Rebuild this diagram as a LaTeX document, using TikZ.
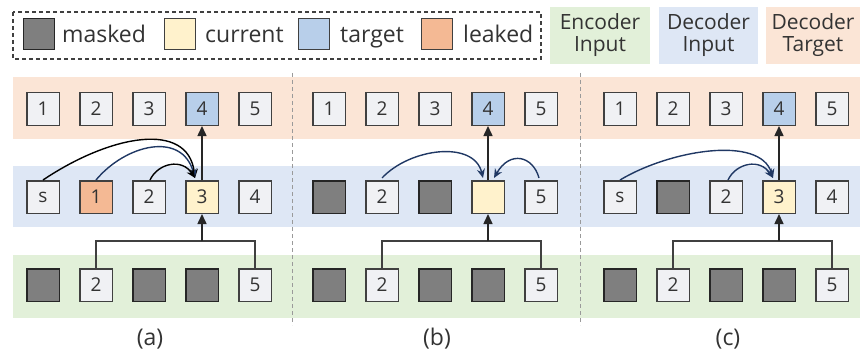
\documentclass[tikz,border=0pt]{standalone}
\usepackage{fontspec}
\setmainfont{Open Sans}
\usetikzlibrary{arrows.meta}

\definecolor{txt}{HTML}{333333}
\definecolor{boxline}{HTML}{404040}
\definecolor{tokfill}{HTML}{F0F1F4}
\definecolor{maskfill}{HTML}{7F7F7F}
\definecolor{maskline}{HTML}{262626}
\definecolor{curfill}{HTML}{FFF2CC}
\definecolor{tgtfill}{HTML}{B8CFEA}
\definecolor{leakfill}{HTML}{F4B994}
\definecolor{bandtgt}{HTML}{FBE5D6}
\definecolor{banddec}{HTML}{DEE7F5}
\definecolor{bandenc}{HTML}{E2F0D9}
\definecolor{navy}{HTML}{203864}
\definecolor{sepgray}{HTML}{9A9A9A}

\tikzset{
  tok/.style={draw=boxline, line width=1.5pt, fill=tokfill, minimum size=32.5pt,
    inner sep=0pt, text=txt, font=\fontsize{19}{19}\selectfont},
  masktok/.style={tok, fill=maskfill, draw=maskline},
  curtok/.style={tok, fill=curfill},
  tgttok/.style={tok, fill=tgtfill},
  leaktok/.style={tok, fill=leakfill},
  legtok/.style={tok, minimum size=31pt},
  legtext/.style={anchor=base west, inner sep=0pt, text=txt, font=\fontsize{23}{23}\selectfont},
  rolebox/.style={align=center, text=txt, inner sep=0pt, font=\fontsize{21}{22}\selectfont},
  panellabel/.style={text=txt, font=\fontsize{23}{23}\selectfont},
  conn/.style={draw=boxline, line width=1.5pt},
  uparrow/.style={conn, draw=black!85, -{Triangle[width=9pt,length=10pt]}},
  attn/.style={line width=1.4pt, -{Stealth[width=8pt,length=9pt]}},
  sep/.style={draw=sepgray, line width=1pt, dash pattern=on 4pt off 3pt},
}

\begin{document}
\begin{tikzpicture}[x=1pt,y=-1pt]
\useasboundingbox (0,0) rectangle (860,353);

% colour bands for the three rows
\fill[bandtgt] (13,77) rectangle (860,139);
\fill[banddec] (13,166) rectangle (860,227);
\fill[bandenc] (13,255) rectangle (860,318);

% panel separators
\draw[sep] (292,73) -- (292,325);
\draw[sep] (580,73) -- (580,325);

% legend
\draw[draw=boxline, line width=1.1pt, dash pattern=on 4pt off 3pt] (13,12) rectangle (541,59);
\node[legtok, fill=maskfill, draw=maskline] (lmask) at (39,34) {};
\node[legtext] (lmasktxt) at (62,43) {masked};
\node[legtok, fill=curfill] (lcur) at (180,34) {};
\node[legtext] (lcurtxt) at (205,43) {current};
\node[legtok, fill=tgtfill] (ltgt) at (314,34) {};
\node[legtext] (ltgttxt) at (340,43) {target};
\node[legtok, fill=leakfill] (lleak) at (437,34) {};
\node[legtext] (lleaktxt) at (463,43) {leaked};

% row roles
\fill[bandenc] (550,7) rectangle (650,64);
\node[rolebox] (encin) at (600,35.5) {Encoder\\Input};
\fill[banddec] (659,7) rectangle (758,64);
\node[rolebox] (decin) at (708.5,35.5) {Decoder\\Input};
\fill[bandtgt] (766,7) rectangle (860,64);
\node[rolebox] (dectgt) at (813,35.5) {Decoder\\Target};

% target row and encoder row, identical in every panel
\foreach \p/\x in {a/43,b/329,c/620} {
  \node[tok] (\p t1) at (\x,109) {1};
  \node[tok] (\p t2) at ({\x+53},109) {2};
  \node[tok] (\p t3) at ({\x+106},109) {3};
  \node[tgttok] (\p t4) at ({\x+159},109) {4};
  \node[tok] (\p t5) at ({\x+212},109) {5};
  \node[masktok] (\p e1) at (\x,285) {};
  \node[tok] (\p e2) at ({\x+53},285) {2};
  \node[masktok] (\p e3) at ({\x+106},285) {};
  \node[masktok] (\p e4) at ({\x+159},285) {};
  \node[tok] (\p e5) at ({\x+212},285) {5};
}

% decoder inputs, panel (a)
\node[tok] (am1) at (43,197) {s};
\node[leaktok] (am2) at (96,197) {1};
\node[tok] (am3) at (149,197) {2};
\node[curtok] (am4) at (202,197) {3};
\node[tok] (am5) at (255,197) {4};

% decoder inputs, panel (b)
\node[masktok] (bm1) at (329,197) {};
\node[tok] (bm2) at (382,197) {2};
\node[masktok] (bm3) at (435,197) {};
\node[curtok] (bm4) at (488,197) {};
\node[tok] (bm5) at (541,197) {5};

% decoder inputs, panel (c)
\node[tok] (cm1) at (620,197) {s};
\node[masktok] (cm2) at (673,197) {};
\node[tok] (cm3) at (726,197) {2};
\node[curtok] (cm4) at (779,197) {3};
\node[tok] (cm5) at (832,197) {4};

% encoder context feeding the current position, and prediction of the target
\foreach \p in {a,b,c} {
  \coordinate (\p jl) at (\p e2.north |- 0,241);
  \coordinate (\p jr) at (\p e5.north |- 0,241);
  \coordinate (\p jm) at (\p m4.south |- 0,241);
  \draw[conn] (\p e2.north) -- (\p jl) -- (\p jr) -- (\p e5.north);
  \draw[uparrow] (\p jm) -- (\p m4.south);
  \draw[uparrow] (\p m4.north) -- (\p t4.south);
}

% attention to decoder inputs, panel (a)
\coordinate (aend) at ([xshift=-7pt,yshift=2pt]am4.north);
\draw[attn, black] (am1.north) .. controls (110,135) and (188,120) .. (aend);
\draw[attn, navy] (am2.north) .. controls (125,145) and (182,130) .. (aend);
\draw[attn, black] ([xshift=1pt]am3.north) .. controls (158,163) and (182,158) .. (aend);

% attention to decoder inputs, panel (b)
\coordinate (bendl) at ([xshift=-5pt,yshift=2pt]bm4.north);
\coordinate (bendr) at ([xshift=6pt,yshift=2pt]bm4.north);
\draw[attn, navy] ([yshift=2pt]bm2.north) .. controls (410,148) and (474,140) .. (bendl);
\draw[attn, navy] ([xshift=-2pt,yshift=2pt]bm5.north) .. controls (533,156) and (510,150) .. (bendr);

% attention to decoder inputs, panel (c)
\coordinate (cend) at ([xshift=-6pt,yshift=2pt]cm4.north);
\draw[attn, navy] (cm1.north) .. controls (670,150) and (760,135) .. (cend);
\draw[attn, navy] ([xshift=2pt]cm3.north) .. controls (736,163) and (760,158) .. (cend);

% panel captions
\node[panellabel] (capa) at (150,339) {(a)};
\node[panellabel] (capb) at (437,339) {(b)};
\node[panellabel] (capc) at (728,339) {(c)};
\end{tikzpicture}
\end{document}
